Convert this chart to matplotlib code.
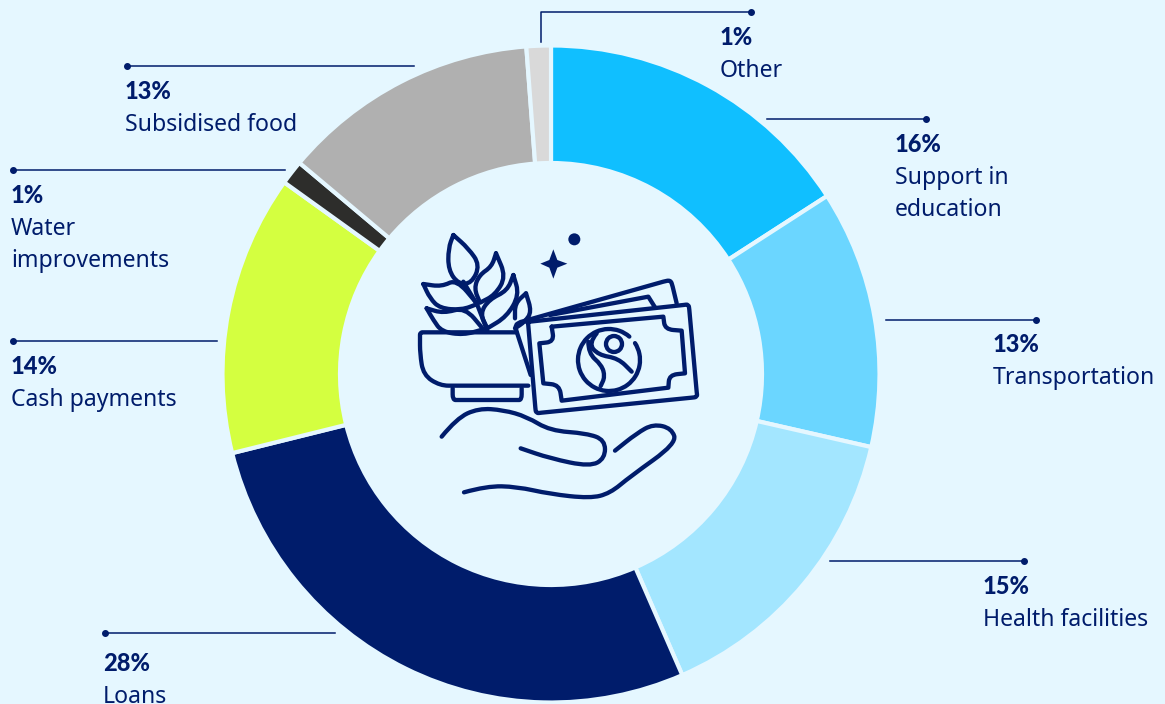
import matplotlib
matplotlib.use("Agg")
import matplotlib.pyplot as plt
from matplotlib.path import Path
from matplotlib.patches import PathPatch, Circle, Arc

categories = ["Support in\neducation", "Transportation", "Health facilities", "Loans",
              "Cash payments", "Water\nimprovements", "Subsidised food", "Other"]
percent_labels = ["16%", "13%", "15%", "28%", "14%", "1%", "13%", "1%"]
# slice sizes, the printed labels are rounded
values = [15.9, 12.7, 14.9, 27.7, 13.8, 1.2, 12.7, 1.2]
colors = ["#10BFFF", "#6BD6FF", "#A3E6FF", "#001C6B", "#D4FF40", "#2D2D2B", "#B0B0B0", "#D9D9D9"]

NAVY = "#001C6B"
BG = "#E5F7FF"
W, H = 1165, 704

# leader lines: from the ring out to the dot, text x and first baseline
line_start = [(767, 119), (886, 320), (830, 561), (335, 633), (217, 341), (285, 170), (414, 66), (541, 42)]
line_dot = [(926, 119), (1036, 320), (1024, 561), (105, 633), (13, 341), (13, 170), (127, 66), (751, 12)]
text_pos = [(895, 152), (993, 352), (983, 594), (103, 671), (11, 374), (11, 203), (125, 99), (720, 45)]

plt.rcParams["font.family"] = ["Noto Sans", "DejaVu Sans"]

fig = plt.figure(figsize=(W / 100, H / 100), dpi=100, facecolor=BG)
ax = fig.add_axes([0, 0, 1, 1])


def flip(p):
    return (p[0], H - p[1])


ax.pie(values, colors=colors, startangle=90, counterclock=False, center=(551, H - 374), radius=328.5,
       wedgeprops=dict(width=117.5, edgecolor=BG, linewidth=3))
ax.set_xlim(0, W)
ax.set_ylim(0, H)
ax.set_aspect("auto")
ax.axis("off")

for i in range(len(categories)):
    x0, y0 = flip(line_start[i])
    x1, y1 = flip(line_dot[i])
    if i == 7:  # Other goes up first and then right
        ax.plot([x0, x0, x1], [y0, y1, y1], color=NAVY, lw=1.1)
    else:
        ax.plot([x0, x1], [y0, y1], color=NAVY, lw=1.1)
    ax.plot([x1], [y1], "o", color=NAVY, ms=4)
    tx, ty = text_pos[i]
    ax.text(tx, H - ty, percent_labels[i], color=NAVY, fontsize=17, family="Lato", fontweight="black", va="baseline")
    for j, part in enumerate(categories[i].split("\n")):
        ax.text(tx, H - (ty + 32 * (j + 1)), part, color=NAVY, fontsize=16.6, va="baseline")


# icon, coordinates are in the 3x zoom of the region at (400, 220)
def z(p):
    return (400 + p[0] / 3, H - (220 + p[1] / 3))


# a point given twice makes a sharp corner, two of those a straight piece
def stroke(pts, lw=3.1):
    pts = [z(p) for p in pts]
    verts = [pts[0]]
    codes = [Path.MOVETO]
    for i in range(1, len(pts) - 1):
        verts += [pts[i], ((pts[i][0] + pts[i + 1][0]) / 2, (pts[i][1] + pts[i + 1][1]) / 2)]
        codes += [Path.CURVE3, Path.CURVE3]
    verts.append(pts[-1])
    codes.append(Path.LINETO)
    ax.add_patch(PathPatch(Path(verts, codes), facecolor="none", edgecolor=NAVY, lw=lw, capstyle="round", joinstyle="round"))


def poly(pts, lw=3.1):
    xy = [z(p) for p in pts]
    ax.plot([p[0] for p in xy], [p[1] for p in xy], color=NAVY, lw=lw, solid_capstyle="round", solid_joinstyle="round")


# leaves
stroke([(160, 45), (160, 45), (145, 85), (145, 150), (175, 192), (215, 190), (240, 135), (205, 85), (160, 45), (160, 45)])
stroke([(288, 100), (288, 100), (318, 170), (285, 225), (240, 248), (240, 248), (222, 205), (238, 165), (275, 140), (288, 100), (288, 100)])
stroke([(340, 165), (340, 165), (358, 225), (320, 290), (262, 325), (262, 325), (240, 280), (268, 238), (322, 212), (340, 165), (340, 165)])
stroke([(378, 220), (378, 220), (395, 275), (375, 305), (345, 325), (345, 325)])
stroke([(378, 220), (378, 220), (345, 250), (345, 295), (345, 295)])
stroke([(70, 192), (70, 192), (125, 200), (170, 178), (232, 252), (232, 252), (185, 270), (120, 265), (90, 235), (70, 192), (70, 192)])
stroke([(80, 265), (80, 265), (130, 280), (195, 262), (250, 328), (250, 328), (190, 345), (125, 335), (100, 300), (80, 265), (80, 265)])
poly([(190, 185), (232, 255), (262, 332)])
# bowl and foot
stroke([(350, 337), (350, 337), (75, 337), (75, 337), (60, 337), (60, 352), (60, 352), (60, 400), (70, 465), (120, 497), (170, 497), (170, 497), (385, 497), (385, 497)])
stroke([(158, 505), (158, 505), (158, 540), (175, 540), (175, 540), (350, 540), (350, 540), (365, 540), (365, 505), (365, 505)])
# bills
stroke([(380, 306), (380, 306), (850, 255), (850, 255), (866, 253), (868, 270), (868, 270), (890, 515), (890, 515), (892, 531), (875, 533),
        (875, 533), (425, 578), (425, 578), (408, 580), (406, 563), (406, 563), (384, 306), (384, 306)])
stroke([(392, 465), (392, 465), (350, 335), (350, 335), (345, 315), (362, 306), (362, 306), (790, 185), (790, 185), (812, 180), (818, 200),
        (818, 200), (830, 250), (830, 250)])
stroke([(450, 285), (450, 285), (745, 230), (745, 230), (765, 262), (765, 262)])
stroke([(455, 320), (455, 320), (790, 290), (790, 290), (795, 328), (845, 332), (845, 332), (855, 460), (855, 460), (808, 465), (805, 503), (805, 503),
        (485, 542), (485, 542), (478, 495), (430, 490), (430, 490), (418, 370), (418, 370), (462, 365), (455, 320), (455, 320)])
# emblem on the front bill
ax.add_patch(Arc(z((627, 420)), 62, 62, theta1=49, theta2=393, color=NAVY, lw=3.1, capstyle="round"))
ax.add_patch(Circle(z((642, 372)), 8, facecolor="none", edgecolor=NAVY, lw=3.1))
stroke([(590, 340), (565, 370), (595, 405), (655, 415), (695, 455)])
stroke([(565, 365), (565, 400), (605, 435), (615, 470), (602, 498)])
# hand
stroke([(125, 650), (170, 595), (235, 565), (310, 570), (380, 590), (450, 632), (560, 640), (615, 660), (615, 715),
        (570, 740), (450, 715), (362, 685)])
stroke([(192, 817), (260, 798), (350, 800), (450, 822), (570, 835), (630, 820), (690, 770), (830, 670), (815, 625),
        (760, 612), (710, 640), (645, 692)])
# star and dot
star = [(460, 88), (472, 120), (502, 131), (472, 143), (460, 176), (448, 143), (421, 131), (448, 120), (460, 88)]
ax.fill([z(p)[0] for p in star], [z(p)[1] for p in star], color=NAVY, lw=0)
ax.add_patch(Circle(z((523, 58)), 6, color=NAVY, lw=0))

fig.savefig("out.png", dpi=100, facecolor=BG)
